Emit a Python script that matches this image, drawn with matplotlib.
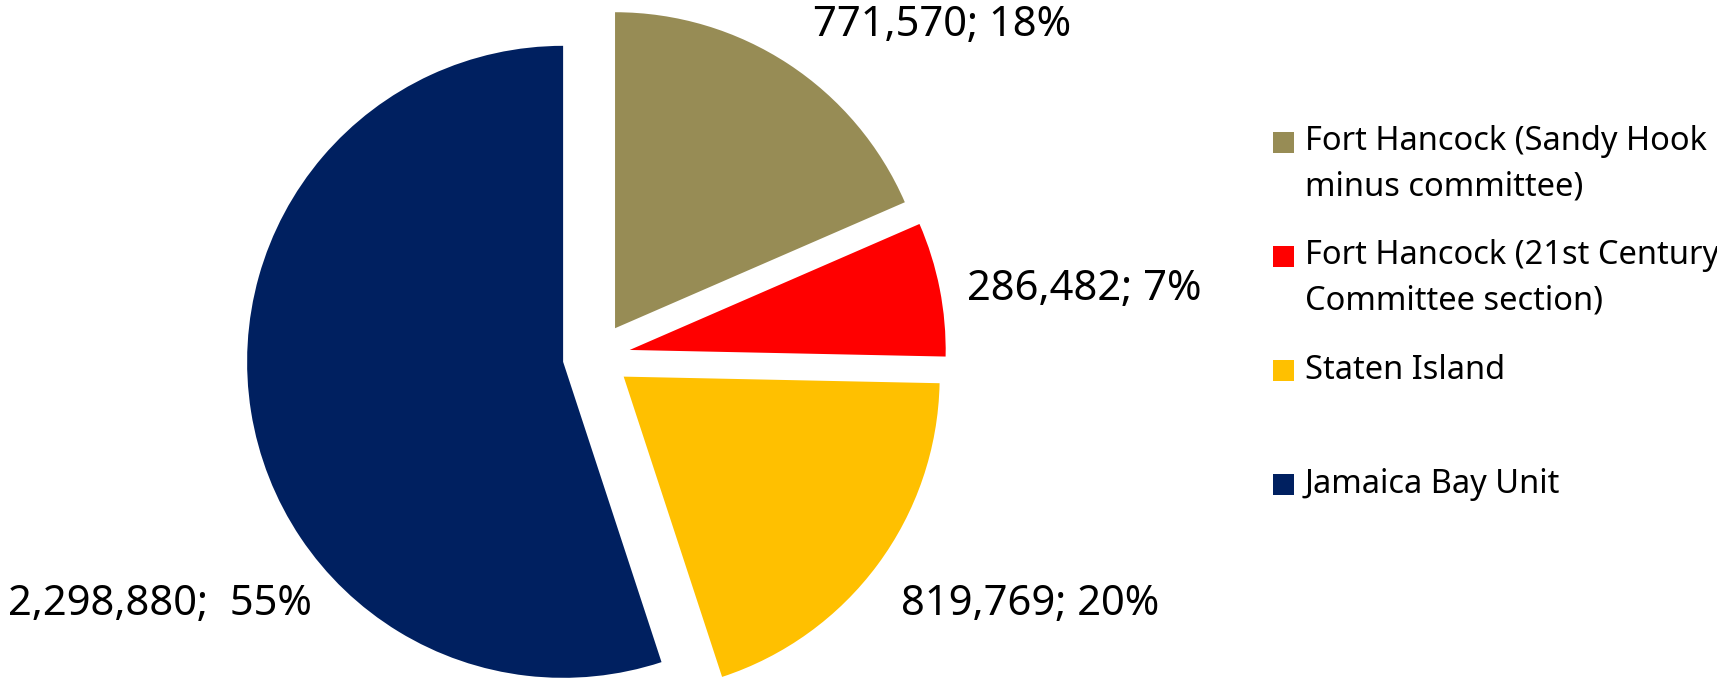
import matplotlib.pyplot as plt
from matplotlib.patches import Rectangle

plt.rcParams['font.family'] = ['Noto Sans', 'DejaVu Sans']

# --- data ---
categories = [
    "Fort Hancock (Sandy Hook\nminus committee)",
    "Fort Hancock (21st Century\nCommittee section)",
    "Staten Island",
    "Jamaica Bay Unit",
]
visitors = [771570, 286482, 819769, 2298880]
label_sep = ["; ", "; ", "; ", ";  "]
colors = ["#978C55", "#FF0000", "#FFC000", "#002060"]

# label anchor points, in pie-radius units from the pie centre
label_pos = [(1.095, 1.05), (1.545, 0.215), (1.372, -0.782), (-1.382, -0.782)]

W, H = 1717, 681
cx, cy, R = 596.5, 356.5, 316.0  # pie centre and radius in pixels

fig = plt.figure(figsize=(W / 100, H / 100), dpi=100)
ax = fig.add_axes([0, 0, 1, 1])

ax.pie(visitors, colors=colors, startangle=90, counterclock=False,
       explode=[0.107] * len(visitors), radius=1.0,
       wedgeprops=dict(linewidth=0))

ax.set_xlim(-cx / R, (W - cx) / R)
ax.set_ylim(-(H - cy) / R, cy / R)
ax.set_aspect('equal', adjustable='box')
ax.axis('off')

total = sum(visitors)
for v, sep, (lx, ly) in zip(visitors, label_sep, label_pos):
    pct = 100 * v / total
    ax.text(lx, ly, f"{v:,}{sep}{pct:.0f}%", ha='center', va='center',
            fontsize=30, color='black')

# --- legend (drawn by hand, Excel style) ---
x_box, box = 1273, 21
y_first, step = 142, 114.3
for i, (lab, col) in enumerate(zip(categories, colors)):
    yc = y_first + i * step
    fig.patches.append(Rectangle(((x_box) / W, 1 - (yc + box / 2) / H), box / W, box / H,
                                 transform=fig.transFigure, facecolor=col, edgecolor='none'))
    fig.text(1305 / W, 1 - (yc - 17) / H, lab, ha='left', va='top',
             fontsize=23.5, linespacing=1.5, color='black')

fig.savefig("out.png", dpi=100)
